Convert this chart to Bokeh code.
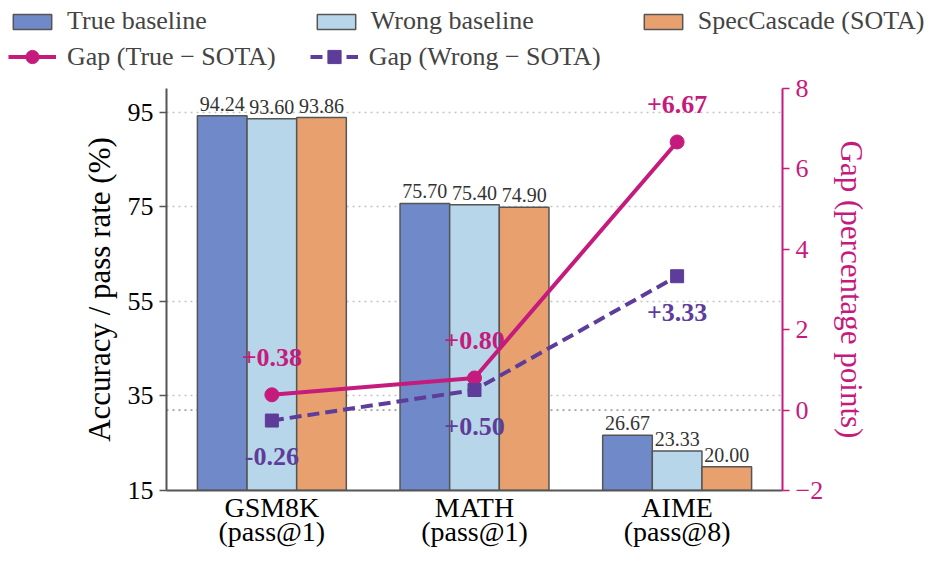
from bokeh.plotting import figure
from bokeh.layouts import column
from bokeh.models import (Range1d, LinearAxis, FixedTicker, Span, Legend,
                          LegendItem, ColumnDataSource)
from bokeh.core.properties import value
from bokeh.embed import file_html
from bokeh.resources import INLINE

# ---------------- data ----------------
categories = ["GSM8K\n(pass@1)", "MATH\n(pass@1)", "AIME\n(pass@8)"]
true_baseline = [94.24, 75.70, 26.67]
wrong_baseline = [93.60, 75.40, 23.33]
sota = [93.86, 74.90, 20.00]
gap_true = [0.38, 0.80, 6.67]
gap_wrong = [-0.26, 0.50, 3.33]
gap_true_labels = ["+0.38", "+0.80", "+6.67"]
gap_wrong_labels = ["-0.26", "+0.50", "+3.33"]
left_ticks = [15, 35, 55, 75, 95]
right_ticks = [-2, 0, 2, 4, 6, 8]
right_tick_labels = ["\u22122", "0", "2", "4", "6", "8"]
series_names = ["True baseline", "Wrong baseline", "SpecCascade (SOTA)"]
gap_names = ["Gap (True \u2212 SOTA)", "Gap (Wrong \u2212 SOTA)"]

# ---------------- style ----------------
FONT = "Liberation Serif"
C_TRUE = "#7089C8"
C_WRONG = "#B7D6E9"
C_SOTA = "#E8A06F"
C_PINK = "#C51B7D"
C_PURPLE = "#5E3C99"
EDGE = "#555555"
BAR_W = 0.245
BAR_COLORS = [C_TRUE, C_WRONG, C_SOTA]

W = 932
LEG_H = 72
MAIN_H = 549 - LEG_H
FRAME_L, FRAME_R = 166, 782

idx = list(range(len(categories)))
nan = float("nan")

# ================= legend strip =================
pl = figure(width=W, height=LEG_H, output_backend="svg", toolbar_location=None,
            x_range=Range1d(0, 1), y_range=Range1d(0, 1),
            x_axis_type=None, y_axis_type=None, min_border=0)
pl.frame_align = False
pl.outline_line_color = None
pl.grid.visible = False

# legend-only glyphs (no visible data)
leg_bars = []
for col in BAR_COLORS:
    leg_bars.append(pl.vbar(x=[nan], top=[nan], width=0.1, fill_color=col,
                            line_color=EDGE, line_width=1.5))
lg_l1 = pl.line(x=[nan, nan], y=[nan, nan], line_color=C_PINK, line_width=4)
lg_s1 = pl.scatter(x=[nan], y=[nan], marker="circle", size=14, fill_color=C_PINK,
                   line_color=C_PINK)
lg_l2 = pl.line(x=[nan, nan], y=[nan, nan], line_color=C_PURPLE, line_width=4,
                line_dash="12 6")
lg_s2 = pl.scatter(x=[nan], y=[nan], marker="square", size=13, fill_color=C_PURPLE,
                   line_color=C_PURPLE)


def mk_legend(items, loc, spacing, glyph_h):
    return Legend(items=items, location=loc, orientation="horizontal",
                  spacing=spacing, padding=0, margin=0, glyph_width=48,
                  glyph_height=glyph_h, label_standoff=11,
                  label_text_font=FONT, label_text_font_size="26px",
                  border_line_color=None, background_fill_alpha=0)


leg1 = mk_legend([LegendItem(label=n, renderers=[r]) for n, r in zip(series_names, leg_bars)],
                 (8, 36), 105, 19)
leg2 = mk_legend([LegendItem(label=gap_names[0], renderers=[lg_l1, lg_s1]),
                  LegendItem(label=gap_names[1], renderers=[lg_l2, lg_s2])],
                 (8, -1), 34, 33)
pl.add_layout(leg1, "center")
pl.add_layout(leg2, "center")

# ================= main chart =================
p = figure(width=W, height=MAIN_H, output_backend="svg", toolbar_location=None,
           x_range=Range1d(-0.52, 2.52), y_range=Range1d(15, 100),
           min_border_left=FRAME_L, min_border_right=W - FRAME_R,
           min_border_top=16, min_border_bottom=56)
p.frame_align = False
p.extra_y_ranges = {"gap": Range1d(-2, 8)}
p.outline_line_color = None
p.background_fill_color = "white"
p.xgrid.visible = False

p.ygrid.ticker = FixedTicker(ticks=left_ticks)
p.ygrid.grid_line_color = "#c4c4c4"
p.ygrid.grid_line_dash = "2 4"
p.ygrid.grid_line_width = 1.4

zero = Span(location=0, dimension="width", y_range_name="gap",
            line_color="#a0a0a0", line_dash="2 4", line_width=1.6, level="underlay")
p.add_layout(zero)

for off, vals, col in [(-BAR_W, true_baseline, C_TRUE), (0.0, wrong_baseline, C_WRONG),
                       (BAR_W, sota, C_SOTA)]:
    src = ColumnDataSource(dict(x=[i + off for i in idx], top=vals,
                                label=[f"{v:.2f}" for v in vals]))
    p.vbar(x="x", top="top", bottom=15, width=BAR_W, fill_color=col,
           line_color=EDGE, line_width=1.5, source=src)
    p.text(x="x", y="top", text="label", source=src, text_align="center",
           text_baseline="bottom", y_offset=-5, text_font=value(FONT),
           text_font_size="20px", text_color="#333333")

p.line(idx, gap_true, y_range_name="gap", line_color=C_PINK, line_width=4)
p.scatter(idx, gap_true, y_range_name="gap", marker="circle", size=14,
          fill_color=C_PINK, line_color=C_PINK)
p.line(idx, gap_wrong, y_range_name="gap", line_color=C_PURPLE, line_width=4,
       line_dash="12 6")
p.scatter(idx, gap_wrong, y_range_name="gap", marker="square", size=13,
          fill_color=C_PURPLE, line_color=C_PURPLE)

p.text(idx, gap_true, text=gap_true_labels, y_range_name="gap", y_offset=-37,
       text_align="center", text_baseline="middle", text_font=value(FONT),
       text_font_size="26px", text_font_style="bold", text_color=C_PINK)
p.text(idx, gap_wrong, text=gap_wrong_labels, y_range_name="gap", y_offset=36,
       text_align="center", text_baseline="middle", text_font=value(FONT),
       text_font_size="26px", text_font_style="bold", text_color=C_PURPLE)

xa = p.xaxis[0]
xa.ticker = FixedTicker(ticks=idx)
xa.major_label_overrides = {i: c for i, c in zip(idx, categories)}
xa.major_tick_line_color = None
xa.minor_tick_line_color = None
xa.axis_line_color = EDGE
xa.axis_line_width = 2
xa.major_label_text_font = FONT
xa.major_label_text_font_size = "28px"
xa.major_label_text_color = "black"
xa.major_label_text_line_height = 0.78
xa.major_label_standoff = -5

ya = p.yaxis[0]
ya.ticker = FixedTicker(ticks=left_ticks)
ya.minor_tick_line_color = None
ya.axis_line_color = EDGE
ya.axis_line_width = 2
ya.major_tick_line_color = EDGE
ya.major_tick_line_width = 1.5
ya.major_tick_out = 7
ya.major_tick_in = 0
ya.major_label_text_font = FONT
ya.major_label_text_font_size = "26px"
ya.major_label_text_color = "black"
ya.major_label_standoff = 6
ya.axis_label = "Accuracy / pass rate (%)"
ya.axis_label_text_font = FONT
ya.axis_label_text_font_size = "31px"
ya.axis_label_text_font_style = "normal"
ya.axis_label_text_color = "black"
ya.axis_label_standoff = 8

ra = LinearAxis(y_range_name="gap")
ra.ticker = FixedTicker(ticks=right_ticks)
ra.major_label_overrides = {t: l for t, l in zip(right_ticks, right_tick_labels)}
ra.minor_tick_line_color = None
ra.axis_line_color = C_PINK
ra.axis_line_width = 2
ra.major_tick_line_color = C_PINK
ra.major_tick_line_width = 1.5
ra.major_tick_out = 7
ra.major_tick_in = 0
ra.major_label_text_font = FONT
ra.major_label_text_font_size = "26px"
ra.major_label_text_color = C_PINK
ra.major_label_standoff = 6
ra.axis_label = "Gap (percentage points)"
ra.axis_label_text_font = FONT
ra.axis_label_text_font_size = "31px"
ra.axis_label_text_font_style = "normal"
ra.axis_label_text_color = C_PINK
ra.axis_label_standoff = 8
p.add_layout(ra, "right")

layout = column(pl, p, spacing=0)
open("out.html", "w").write(file_html(layout, INLINE))
